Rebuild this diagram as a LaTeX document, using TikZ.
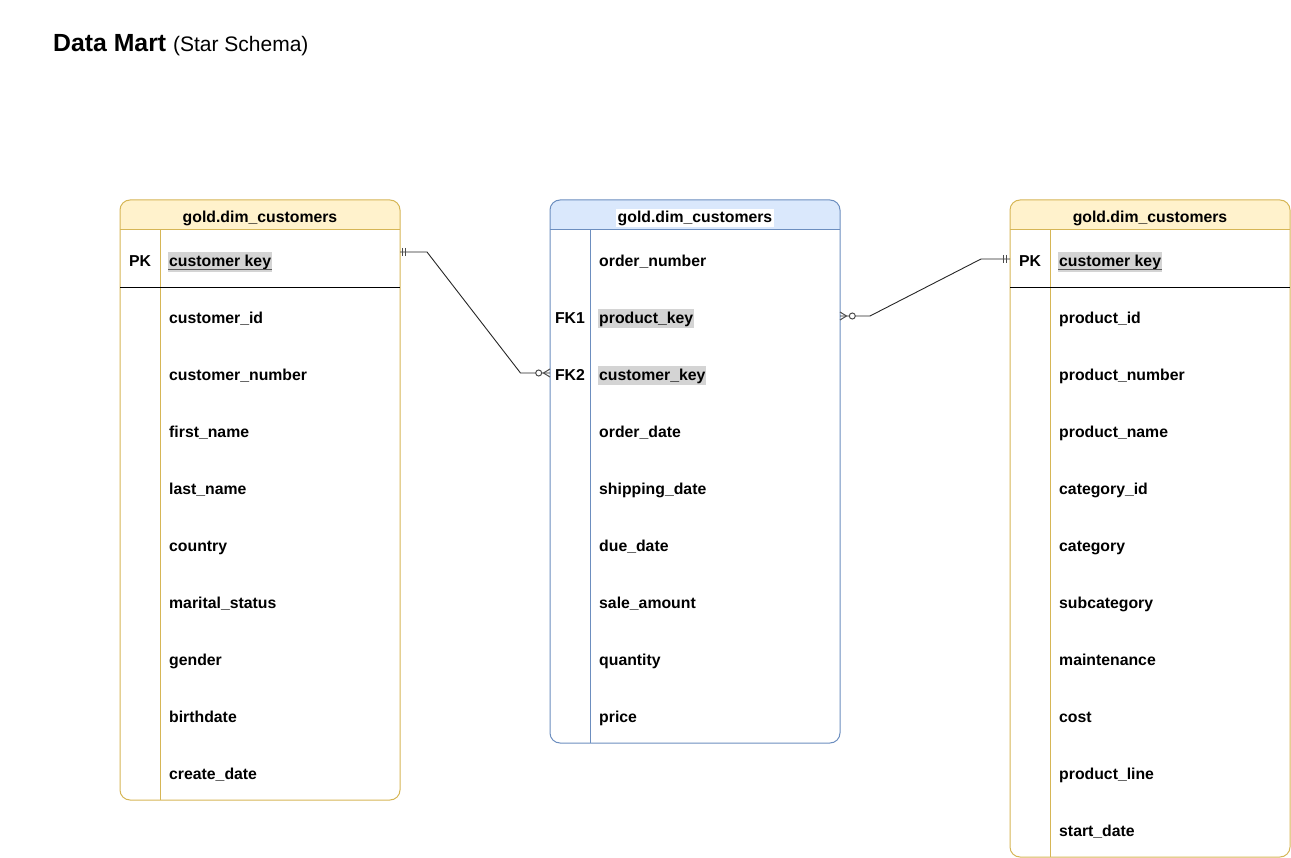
\documentclass[tikz,border=0pt]{standalone}
\usepackage{fontspec}
\setmainfont{Liberation Sans}
\usetikzlibrary{calc}
\definecolor{yfill}{HTML}{FFF2CC}
\definecolor{ystroke}{HTML}{D6B656}
\definecolor{bfill}{HTML}{DAE8FC}
\definecolor{bstroke}{HTML}{6C8EBF}
\definecolor{hlgray}{HTML}{D4D4D4}
\definecolor{ulgray}{HTML}{5A5A5A}
\newcommand{\fieldfont}{\fontsize{15.8}{19}\selectfont\bfseries}
\begin{document}
\begin{tikzpicture}[x=1pt,y=-1pt,
  tablebox/.style={draw, rounded corners=10pt, line width=1pt, inner sep=0pt, outer sep=0pt, anchor=north west},
  field/.style={anchor=base west, inner sep=0pt, font=\fieldfont},
  keylabel/.style={anchor=base, inner sep=0pt, font=\fieldfont},
  hlfield/.style={anchor=base west, fill=hlgray, inner xsep=1pt, inner ysep=1.5pt, text height=13pt, text depth=3.5pt, font=\fieldfont},
  hdrtext/.style={anchor=base, inner sep=0pt, font=\fieldfont},
  conn/.style={line width=0.9pt, black!85},
  tipline/.style={line width=1pt, black!70}
]
\useasboundingbox (0,0) rectangle (1291,858);

% title
\node[anchor=base west, inner sep=0pt] (title) at (53,52) {\fontsize{24.8}{30}\selectfont\bfseries Data Mart {\fontsize{21}{25}\selectfont\mdseries (Star Schema)}};

% ---------- header fills ----------
\fill[yfill, rounded corners=10pt] (120,200) rectangle (400,250);
\fill[white] (120,230) rectangle (400,250);
\fill[bfill, rounded corners=10pt] (550,200) rectangle (840,250);
\fill[white] (550,230) rectangle (840,250);
\fill[yfill, rounded corners=10pt] (1010,200) rectangle (1290,250);
\fill[white] (1010,230) rectangle (1290,250);

% ---------- table frames ----------
\node[tablebox, draw=ystroke, minimum width=280pt, minimum height=600pt] (dimc) at (120,200) {};
\node[tablebox, draw=bstroke, minimum width=290pt, minimum height=543pt] (fact) at (550,200) {};
\node[tablebox, draw=ystroke, minimum width=280pt, minimum height=657pt] (dimp) at (1010,200) {};

% internal lines
\draw[ystroke, line width=1pt] (120,230) -- (400,230);
\draw[ystroke, line width=1pt] (160,230) -- (160,800);
\draw[black, line width=1pt] (120,288) -- (400,288);

\draw[bstroke, line width=1pt] (550,230) -- (840,230);
\draw[bstroke, line width=1pt] (590,230) -- (590,743);

\draw[ystroke, line width=1pt] (1010,230) -- (1290,230);
\draw[ystroke, line width=1pt] (1050,230) -- (1050,857);
\draw[black, line width=1pt] (1010,288) -- (1290,288);

% ---------- headers ----------
\node[hdrtext] (dimch) at (260,222.5) {gold.dim\_customers};
\node[hdrtext, fill=white, inner xsep=1.5pt, inner ysep=1pt, text height=12.5pt, text depth=3.5pt] (facth) at (695,222.5) {gold.dim\_customers};
\node[hdrtext] (dimph) at (1150,222.5) {gold.dim\_customers};

% ---------- left table ----------
\node[keylabel] (lpk) at (140,267) {PK};
\node[hlfield] (lck) at (168,267) {customer key};
\draw[ulgray, line width=1.3pt] ($(lck.base west)+(0,2.2)$) -- ($(lck.base east)+(0,2.2)$);
\foreach \t [count=\i from 0] in {customer\_id,customer\_number,first\_name,last\_name,country,marital\_status,gender,birthdate,create\_date}
  \node[field] (l\i) at (169,{323.5+57*\i}) {\t};

% ---------- fact table ----------
\node[field] (f0) at (599,266.5) {order\_number};
\node[keylabel] (ffk1) at (570,323.5) {FK1};
\node[hlfield] (fpk) at (598,323.5) {product\_key};
\node[keylabel] (ffk2) at (570,380.5) {FK2};
\node[hlfield] (fck) at (598,380.5) {customer\_key};
\foreach \t [count=\i from 3] in {order\_date,shipping\_date,due\_date,sale\_amount,quantity,price}
  \node[field] (f\i) at (599,{266.5+57*\i}) {\t};

% ---------- right table ----------
\node[keylabel] (rpk) at (1030,267) {PK};
\node[hlfield] (rck) at (1058,267) {customer key};
\draw[ulgray, line width=1.3pt] ($(rck.base west)+(0,2.2)$) -- ($(rck.base east)+(0,2.2)$);
\foreach \t [count=\i from 0] in {product\_id,product\_number,product\_name,category\_id,category,subcategory,maintenance,cost,product\_line,start\_date}
  \node[field] (r\i) at (1059,{323.5+57*\i}) {\t};

% ---------- connectors ----------
\coordinate (a1) at ($(dimc.north east)+(0,52)$);   % (400,252)
\coordinate (b1) at ($(fact.north west)+(0,173)$);  % (550,373)
\draw[conn] (a1) -- ++(27,0) -- ($(b1)+(-29.5,0)$) -- (b1);
% one-and-only-one at a1
\draw[tipline] ($(a1)+(2,-4)$) -- ++(0,8);
\draw[tipline] ($(a1)+(5.5,-4)$) -- ++(0,8);
% zero-or-many at b1
\draw[tipline] ($(b1)+(0,-4)$) -- ($(b1)+(-6.5,0)$) -- ($(b1)+(0,4)$);
\draw[tipline, fill=white] ($(b1)+(-11.3,0)$) circle (3pt);

\coordinate (a2) at ($(fact.north east)+(0,116)$);  % (840,316)
\coordinate (b2) at ($(dimp.north west)+(0,59)$);   % (1010,259)
\draw[conn] (a2) -- ++(30,0) -- ($(b2)+(-29,0)$) -- (b2);
% zero-or-many at a2
\draw[tipline] ($(a2)+(0,-4)$) -- ($(a2)+(6.5,0)$) -- ($(a2)+(0,4)$);
\draw[tipline, fill=white] ($(a2)+(12.3,0)$) circle (3pt);
% one-and-only-one at b2
\draw[tipline] ($(b2)+(-7,-4)$) -- ++(0,8);
\draw[tipline] ($(b2)+(-3.5,-4)$) -- ++(0,8);
\end{tikzpicture}
\end{document}
